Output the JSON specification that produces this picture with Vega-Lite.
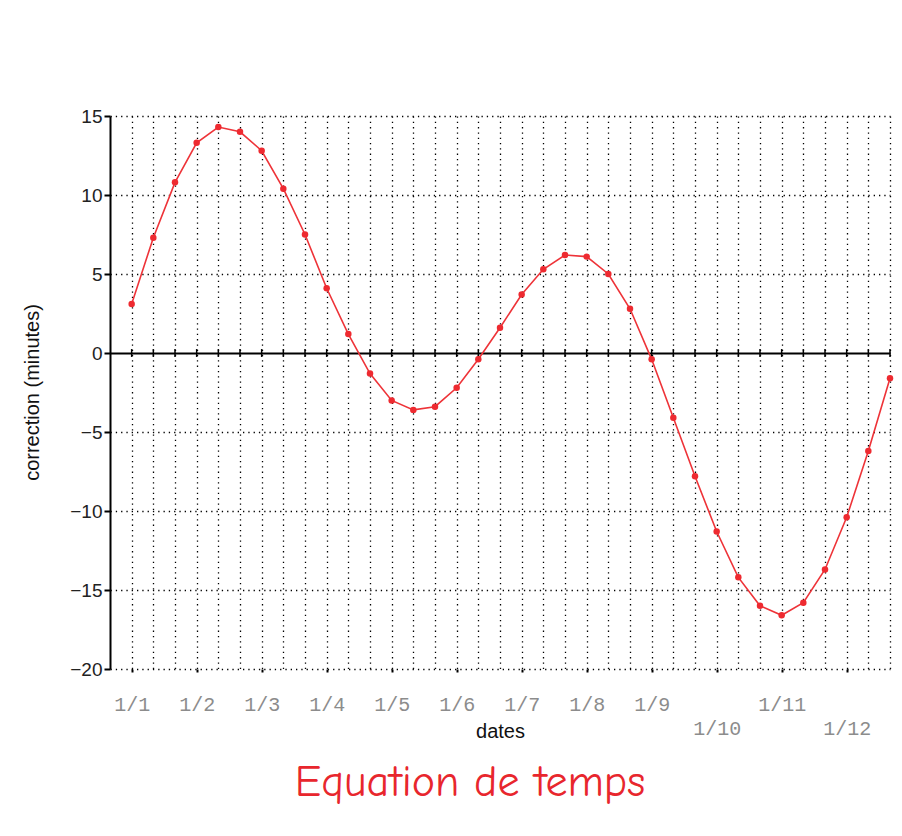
{
  "$schema": "https://vega.github.io/schema/vega-lite/v6.json",
  "autosize": "none",
  "width": 780,
  "height": 553,
  "padding": {"left": 110, "top": 116, "right": 12, "bottom": 167},
  "background": "white",
  "title": {
    "text": "Equation de temps",
    "orient": "bottom",
    "anchor": "middle",
    "dx": -30,
    "offset": 20,
    "font": "Comic Sans MS, Comic Neue, DejaVu Sans",
    "fontSize": 44,
    "fontWeight": "normal",
    "color": "#e8262d"
  },
  "config": {"view": {"stroke": null}, "axisX": {"labelOverlap": false}},
  "data": {
    "values": [
      {"t": 0, "v": 3.1}, {"t": 1, "v": 7.3}, {"t": 2, "v": 10.8}, {"t": 3, "v": 13.3},
      {"t": 4, "v": 14.3}, {"t": 5, "v": 14.0}, {"t": 6, "v": 12.8}, {"t": 7, "v": 10.4},
      {"t": 8, "v": 7.5}, {"t": 9, "v": 4.1}, {"t": 10, "v": 1.2}, {"t": 11, "v": -1.3},
      {"t": 12, "v": -3.0}, {"t": 13, "v": -3.6}, {"t": 14, "v": -3.4}, {"t": 15, "v": -2.2},
      {"t": 16, "v": -0.4}, {"t": 17, "v": 1.6}, {"t": 18, "v": 3.7}, {"t": 19, "v": 5.3},
      {"t": 20, "v": 6.2}, {"t": 21, "v": 6.1}, {"t": 22, "v": 5.0}, {"t": 23, "v": 2.8},
      {"t": 24, "v": -0.4}, {"t": 25, "v": -4.1}, {"t": 26, "v": -7.8}, {"t": 27, "v": -11.3},
      {"t": 28, "v": -14.2}, {"t": 29, "v": -16.0}, {"t": 30, "v": -16.6}, {"t": 31, "v": -15.8},
      {"t": 32, "v": -13.7}, {"t": 33, "v": -10.4}, {"t": 34, "v": -6.2}, {"t": 35, "v": -1.6}
    ]
  },
  "encoding": {
    "x": {
      "field": "t", "type": "quantitative",
      "scale": {"domain": [-1, 35], "nice": false, "zero": false},
      "axis": {
        "title": "dates",
        "titleFont": "Liberation Sans",
        "titleFontSize": 20,
        "titleFontWeight": "normal",
        "titleColor": "#111",
        "titleY": 62,
        "titleBaseline": "middle",
        "values": [0,1,2,3,4,5,6,7,8,9,10,11,12,13,14,15,16,17,18,19,20,21,22,23,24,25,26,27,28,29,30,31,32,33,34,35],
        "labelExpr": "datum.value % 3 == 0 ? ((datum.value == 27 || datum.value == 33) ? ['', '1/' + (datum.value / 3 + 1)] : '1/' + (datum.value / 3 + 1)) : ''",
        "labelOverlap": false,
        "labelFlush": false,
        "labelBound": false,
        "labelFont": "Liberation Mono",
        "labelFontSize": 20,
        "labelColor": "#8c8c8c",
        "labelPadding": 22,
        "labelLineHeight": 24,
        "labelBaseline": "top",
        "domain": false,
        "ticks": true,
        "tickSize": 3,
        "tickWidth": 2,
        "tickColor": "black",
        "tickOpacity": {"condition": {"test": "datum.value % 3 == 0", "value": 1}, "value": 0},
        "grid": true,
        "gridColor": "black",
        "gridDash": [1.3, 4],
        "gridWidth": 1.3
      }
    }
  },
  "layer": [
    {
      "mark": {"type": "line", "color": "#ee3338", "strokeWidth": 1.6},
      "encoding": {
        "y": {
          "field": "v", "type": "quantitative",
          "scale": {"domain": [-20, 15], "nice": false, "zero": false},
          "axis": {
            "title": "correction (minutes)",
            "titleFont": "Liberation Sans",
            "titleFontSize": 20,
            "titleFontWeight": "normal",
            "titleColor": "#111",
            "titleX": -78,
            "titleY": 276,
            "titleBaseline": "middle",
            "titleAngle": -90,
            "titleAlign": "center",
            "values": [-20, -15, -10, -5, 0, 5, 10, 15],
            "labelFont": "Liberation Sans",
            "labelFontSize": 19,
            "labelColor": "#222",
            "labelPadding": 2,
            "domain": true,
            "domainColor": "black",
            "domainWidth": 2,
            "tickColor": "black",
            "tickSize": 6,
            "tickWidth": 2,
            "grid": true,
            "gridColor": "black",
            "gridDash": {"condition": {"test": "datum.value == 0", "value": [1, 0]}, "value": [1.3, 4]},
            "gridWidth": {"condition": {"test": "datum.value == 0", "value": 2}, "value": 1.3}
          }
        }
      }
    },
    {
      "mark": {"type": "rule", "color": "black", "strokeWidth": 1.5},
      "encoding": {
        "y": {"datum": -0.25, "type": "quantitative"},
        "y2": {"datum": 0.25}
      }
    },
    {
      "mark": {"type": "circle", "color": "#ee2a30", "opacity": 1, "size": 42},
      "encoding": {
        "y": {"field": "v", "type": "quantitative"}
      }
    }
  ]
}
